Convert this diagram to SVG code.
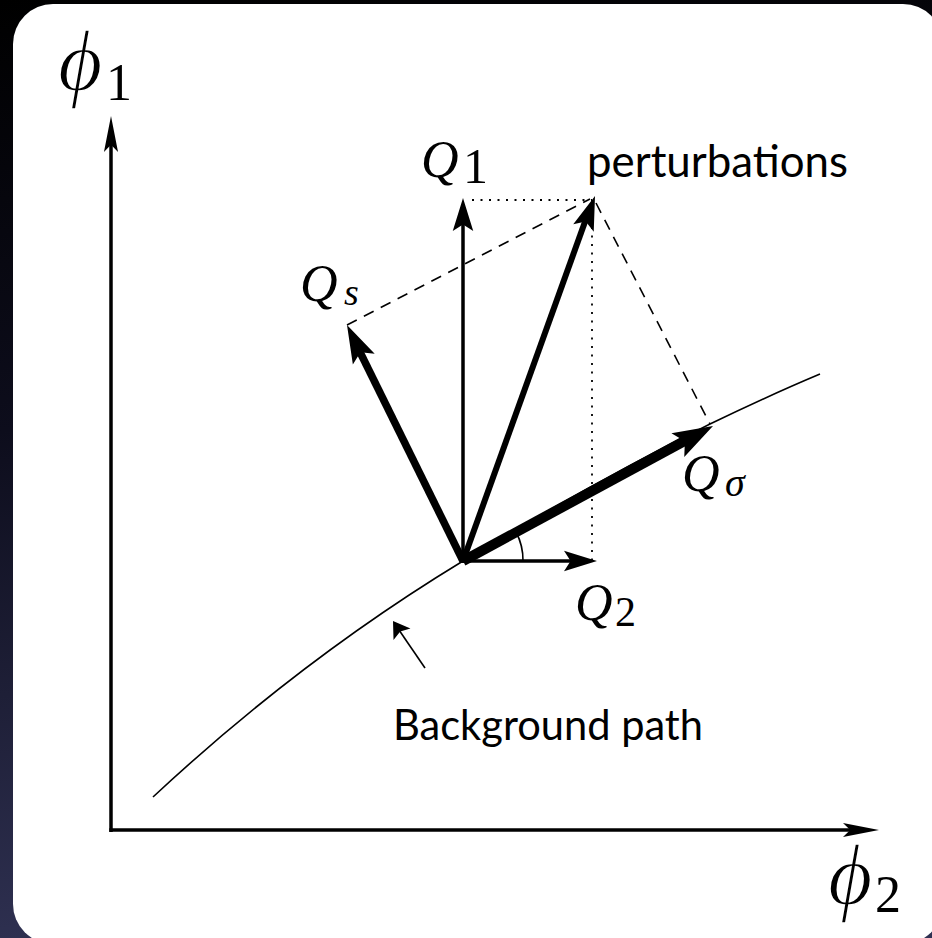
<svg xmlns="http://www.w3.org/2000/svg" xmlns:xlink="http://www.w3.org/1999/xlink" width="932" height="938" viewBox="0 0 932 938">
<style>
.math{font-family:"Liberation Serif","DejaVu Serif",serif;font-style:italic;fill:#000}
.phi{font-family:"Liberation Serif","DejaVu Serif",serif;font-style:italic;fill:#000;stroke:#fff;stroke-width:1.6}
.num{font-family:"Liberation Serif","DejaVu Serif",serif;fill:#000}
.lbl{font-family:Lato,"Open Sans",sans-serif;fill:#000}
.thin{stroke:#000;fill:none;stroke-width:1.6}
.dash{stroke:#000;fill:none;stroke-width:1.6;stroke-dasharray:11 8}
.dot{stroke:#000;fill:none;stroke-width:1.8;stroke-dasharray:2 6.5}
</style>
<defs>
<linearGradient id="bg" x1="0" y1="0" x2="0.15" y2="1">
<stop offset="0" stop-color="#000"/>
<stop offset="0.45" stop-color="#0d0d1c"/>
<stop offset="1" stop-color="#2f3152"/>
</linearGradient>
<path id="ah" d="M0,0 L-1,-0.32 L-0.8,0 L-1,0.32 Z" fill="#000"/>
</defs>
<rect x="0" y="0" width="932" height="938" fill="url(#bg)"/>
<rect x="13" y="4" width="930" height="940" rx="40" ry="40" fill="#fff"/>

<g id="axes">
<line x1="111" y1="832" x2="111" y2="140" stroke="#000" stroke-width="3.5"/>
<use xlink:href="#ah" transform="translate(111,116) rotate(-90) scale(36,22)"/>
<line x1="109.3" y1="830" x2="855" y2="830" stroke="#000" stroke-width="3.5"/>
<use xlink:href="#ah" transform="translate(879,830) rotate(0) scale(36,22)"/>
</g>

<g id="labels-axes">
<text class="phi" x="58" y="90" font-size="86">ϕ</text>
<text class="num" x="106" y="100" font-size="52">1</text>
<text class="phi" x="828" y="904" font-size="86">ϕ</text>
<text class="num" x="875" y="912" font-size="52">2</text>
</g>

<g id="background-path">
<path class="thin" d="M153,797 Q300,660 463,561 Q590,484 710,424 Q770,395 820,374"/>
<line class="thin" x1="425" y1="668" x2="399" y2="630"/>
<use xlink:href="#ah" transform="translate(393,621) rotate(-124.2) scale(16,32)"/>
<text class="lbl" x="393" y="740" font-size="43" textLength="310" lengthAdjust="spacingAndGlyphs">Background path</text>
</g>

<g id="connectors">
<line class="dot" x1="472" y1="200" x2="592" y2="200"/>
<line class="dot" x1="592" y1="210" x2="592" y2="562"/>
<line class="dash" x1="347" y1="325" x2="590" y2="199"/>
<line class="dash" x1="596" y1="203" x2="710" y2="424"/>
<path class="thin" d="M523,561 A60,60 0 0 0 516,532"/>
</g>

<g id="Q1">
<line x1="463" y1="563" x2="463" y2="222" stroke="#000" stroke-width="3.5"/>
<use xlink:href="#ah" transform="translate(463,198) rotate(-90) scale(33,32)"/>
<text class="math" x="421" y="177" font-size="52">Q</text>
<text class="num" x="463" y="183" font-size="50">1</text>
</g>

<g id="Q2">
<line x1="461" y1="561" x2="573" y2="561" stroke="#000" stroke-width="3.5"/>
<use xlink:href="#ah" transform="translate(597,561) rotate(0) scale(33,32)"/>
<text class="math" x="575" y="620" font-size="52">Q</text>
<text class="num" x="615" y="626" font-size="42">2</text>
</g>

<g id="perturbation">
<line x1="463" y1="561" x2="586" y2="219" stroke="#000" stroke-width="6"/>
<use xlink:href="#ah" transform="translate(595,196) rotate(-70.2) scale(34,34)"/>
<text class="lbl" x="587" y="177" font-size="45" textLength="261" lengthAdjust="spacingAndGlyphs">perturbations</text>
</g>

<g id="Qs">
<line x1="463" y1="561" x2="358" y2="348" stroke="#000" stroke-width="7.5"/>
<use xlink:href="#ah" transform="translate(347,325) rotate(-116.2) scale(38,38)"/>
<text class="math" x="300" y="301" font-size="52">Q</text>
<text class="math" x="344" y="305" font-size="38">s</text>
</g>

<g id="Qsigma">
<line x1="463" y1="561" x2="690" y2="438" stroke="#000" stroke-width="10"/>
<use xlink:href="#ah" transform="translate(713,426) rotate(-28.5) scale(40,42)"/>
<text class="math" x="682" y="491" font-size="52">Q</text>
<text class="math" x="725" y="496" font-size="40">σ</text>
</g>
</svg>
